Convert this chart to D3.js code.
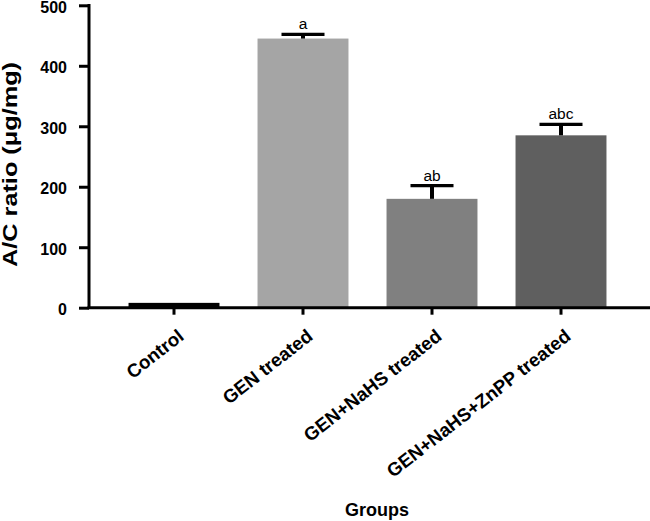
<!DOCTYPE html>
<html><head><meta charset="utf-8">
<script src="https://cdn.jsdelivr.net/npm/d3@7"></script>
<style>body{margin:0;background:#fff}svg{display:block}text{font-family:"Liberation Sans",Arial,sans-serif}</style>
</head><body><svg id="c" width="650" height="521"></svg>
<script>
const groups = ["Control","GEN treated","GEN+NaHS treated","GEN+NaHS+ZnPP treated"];
const means = [8, 445, 180, 285];
const errors = [0, 7, 22, 18];
const letters = ["", "a", "ab", "abc"];
const colors = ["#000000","#a5a5a5","#808080","#5f5f5f"];
const yTicks = [0,100,200,300,400,500];

const svg = d3.select("#c");
const y = d3.scaleLinear().domain([0,500]).range([307.7,5.3]);
const x = d3.scaleBand().domain(groups).range([109.5,625.5]).paddingInner(0.295).paddingOuter(0.1475);
const FF = "Liberation Sans, Arial, sans-serif";

// bars
svg.selectAll("rect.bar").data(groups).enter().append("rect")
  .attr("x", d=>x(d)).attr("width", x.bandwidth())
  .attr("y", (d,i)=>y(means[i])).attr("height",(d,i)=>y(0)-y(means[i]))
  .attr("fill",(d,i)=>colors[i]);

// error bars
const cw = 43;
groups.forEach((g,i)=>{
  if(!errors[i]) return;
  const cx = x(g)+x.bandwidth()/2;
  svg.append("line").attr("x1",cx).attr("x2",cx).attr("y1",y(means[i])).attr("y2",y(means[i]+errors[i]))
    .attr("stroke","#000").attr("stroke-width",4);
  svg.append("line").attr("x1",cx-cw/2).attr("x2",cx+cw/2).attr("y1",y(means[i]+errors[i])).attr("y2",y(means[i]+errors[i]))
    .attr("stroke","#000").attr("stroke-width",3.3);
  svg.append("text").attr("x",cx).attr("y",y(means[i]+errors[i])-5).attr("text-anchor","middle")
    .style("font-size","15.5px").style("font-family",FF).attr("fill","#000").text(letters[i]);
});

// y axis
const ya = svg.append("g").attr("transform","translate(89,0)")
  .call(d3.axisLeft(y).tickValues(yTicks).tickSize(10).tickPadding(12).tickSizeOuter(0));
ya.select(".domain").attr("stroke-width",3).attr("d","M0,4V309");
ya.selectAll(".tick line").attr("stroke-width",3);
ya.selectAll(".tick text").style("font-size","16px").style("font-weight","bold").attr("fill","#000")
  .style("font-family",FF).attr("dy","0.45em");

// x axis
const xa = svg.append("g").attr("transform","translate(0,307.7)")
  .call(d3.axisBottom(x).tickSize(7).tickSizeOuter(0));
xa.select(".domain").attr("stroke-width",3).attr("d","M87.5,0H650");
xa.selectAll(".tick line").attr("stroke-width",3);
xa.selectAll(".tick text").style("font-size","18.7px").style("font-weight","bold").attr("fill","#000")
  .style("font-family",FF)
  .attr("text-anchor","end").attr("dy",null).attr("y",0).attr("x",0)
  .attr("transform","translate(11,30.8) rotate(-38)");

// labels
svg.append("text").attr("transform","translate(17,164.5) rotate(-90)").attr("text-anchor","middle")
  .style("font-size","19.5px").style("font-weight","bold").style("font-family",FF)
  .attr("textLength",205).attr("lengthAdjust","spacingAndGlyphs").text("A/C ratio (μg/mg)");
svg.append("text").attr("x",377).attr("y",516).attr("text-anchor","middle")
  .style("font-size","18px").style("font-weight","bold").style("font-family",FF).text("Groups");
</script></body></html>
